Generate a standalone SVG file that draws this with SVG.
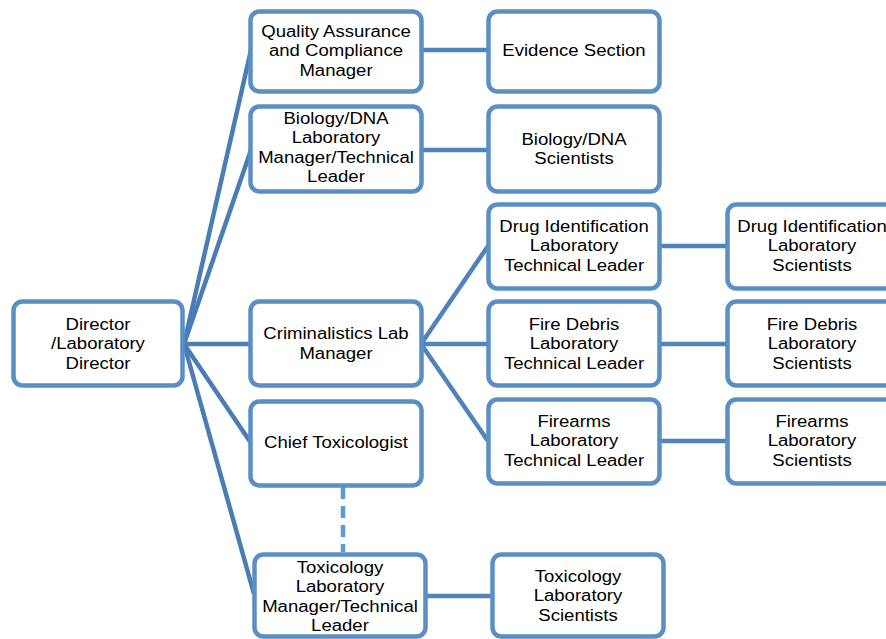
<svg xmlns="http://www.w3.org/2000/svg" width="886" height="639" viewBox="0 0 886 639">
<style>
.box{fill:#fff;stroke:#5a8fc6;stroke-width:4.5}
.ln{stroke:#4f84bb;stroke-width:4.5;fill:none}
.dl{stroke:#4a7db4;stroke-width:4.5;fill:none}
text{font-family:"Liberation Sans",Arial,sans-serif;font-size:16px;fill:#000;text-anchor:middle}
</style>
<rect width="886" height="639" fill="#fff"/>
<g id="connectors">
<line class="dl" x1="184" y1="344" x2="251" y2="50"/>
<line class="dl" x1="184" y1="344" x2="251" y2="150"/>
<line class="dl" x1="184" y1="344" x2="251" y2="344"/>
<line class="dl" x1="184" y1="344" x2="251" y2="443"/>
<line class="dl" x1="184" y1="344" x2="254" y2="594"/>
<line class="ln" x1="421" y1="344" x2="488" y2="246"/>
<line class="ln" x1="421" y1="344" x2="488" y2="344"/>
<line class="ln" x1="421" y1="344" x2="488" y2="441"/>
<line class="ln" x1="421" y1="50" x2="488" y2="50"/>
<line class="ln" x1="421" y1="150" x2="488" y2="150"/>
<line class="ln" x1="660" y1="246" x2="726" y2="246"/>
<line class="ln" x1="660" y1="344" x2="726" y2="344"/>
<line class="ln" x1="660" y1="441" x2="726" y2="441"/>
<line class="ln" x1="425" y1="596" x2="492" y2="596"/>
<line x1="343" y1="487" x2="343" y2="552" stroke="#5b9bd5" stroke-width="4.5" stroke-dasharray="12,7"/>
</g>
<g id="director"><rect class="box" x="13.5" y="301.5" width="169" height="84" rx="9"/>
<g transform="scale(1.16 1)"><text x="84.48" y="330">Director</text><text x="84.48" y="349.5">/Laboratory</text><text x="84.48" y="369">Director</text></g></g>
<g id="qa"><rect class="box" x="250.5" y="11.5" width="171" height="80" rx="9"/>
<g transform="scale(1.16 1)"><text x="289.66" y="37">Quality Assurance</text><text x="289.66" y="56.5">and Compliance</text><text x="289.66" y="76">Manager</text></g></g>
<g id="biomgr"><rect class="box" x="250.5" y="106.5" width="171" height="85" rx="9"/>
<g transform="scale(1.16 1)"><text x="289.66" y="124">Biology/DNA</text><text x="289.66" y="143.5">Laboratory</text><text x="289.66" y="163">Manager/Technical</text><text x="289.66" y="182.5">Leader</text></g></g>
<g id="crim"><rect class="box" x="250.5" y="301.5" width="171" height="84" rx="9"/>
<g transform="scale(1.16 1)"><text x="289.66" y="339.5">Criminalistics Lab</text><text x="289.66" y="359">Manager</text></g></g>
<g id="chieftox"><rect class="box" x="250.5" y="401.5" width="171" height="84" rx="9"/>
<g transform="scale(1.16 1)"><text x="289.66" y="448.5">Chief Toxicologist</text></g></g>
<g id="toxmgr"><rect class="box" x="254.5" y="554.5" width="171" height="82" rx="9"/>
<g transform="scale(1.16 1)"><text x="293.1" y="573">Toxicology</text><text x="293.1" y="592.5">Laboratory</text><text x="293.1" y="612">Manager/Technical</text><text x="293.1" y="631.5">Leader</text></g></g>
<g id="evidence"><rect class="box" x="488.5" y="11.5" width="171" height="80" rx="9"/>
<g transform="scale(1.16 1)"><text x="494.83" y="56.5">Evidence Section</text></g></g>
<g id="biosci"><rect class="box" x="488.5" y="106.5" width="171" height="85" rx="9"/>
<g transform="scale(1.16 1)"><text x="494.83" y="145">Biology/DNA</text><text x="494.83" y="164.5">Scientists</text></g></g>
<g id="drugtl"><rect class="box" x="488.5" y="204.5" width="171" height="84" rx="9"/>
<g transform="scale(1.16 1)"><text x="494.83" y="232">Drug Identification</text><text x="494.83" y="251.5">Laboratory</text><text x="494.83" y="271">Technical Leader</text></g></g>
<g id="firetl"><rect class="box" x="488.5" y="301.5" width="171" height="84" rx="9"/>
<g transform="scale(1.16 1)"><text x="494.83" y="330">Fire Debris</text><text x="494.83" y="349.5">Laboratory</text><text x="494.83" y="369">Technical Leader</text></g></g>
<g id="armstl"><rect class="box" x="488.5" y="399.5" width="171" height="84" rx="9"/>
<g transform="scale(1.16 1)"><text x="494.83" y="427">Firearms</text><text x="494.83" y="446.5">Laboratory</text><text x="494.83" y="466">Technical Leader</text></g></g>
<g id="toxsci"><rect class="box" x="492.5" y="554.5" width="171" height="82" rx="9"/>
<g transform="scale(1.16 1)"><text x="498.28" y="582">Toxicology</text><text x="498.28" y="601.5">Laboratory</text><text x="498.28" y="621">Scientists</text></g></g>
<g id="drugsci"><rect class="box" x="727.5" y="204.5" width="171" height="84" rx="9"/>
<g transform="scale(1.16 1)"><text x="700" y="232">Drug Identification</text><text x="700" y="251.5">Laboratory</text><text x="700" y="271">Scientists</text></g></g>
<g id="firesci"><rect class="box" x="727.5" y="301.5" width="171" height="84" rx="9"/>
<g transform="scale(1.16 1)"><text x="700" y="330">Fire Debris</text><text x="700" y="349.5">Laboratory</text><text x="700" y="369">Scientists</text></g></g>
<g id="armssci"><rect class="box" x="727.5" y="399.5" width="171" height="84" rx="9"/>
<g transform="scale(1.16 1)"><text x="700" y="427">Firearms</text><text x="700" y="446.5">Laboratory</text><text x="700" y="466">Scientists</text></g></g>
</svg>
